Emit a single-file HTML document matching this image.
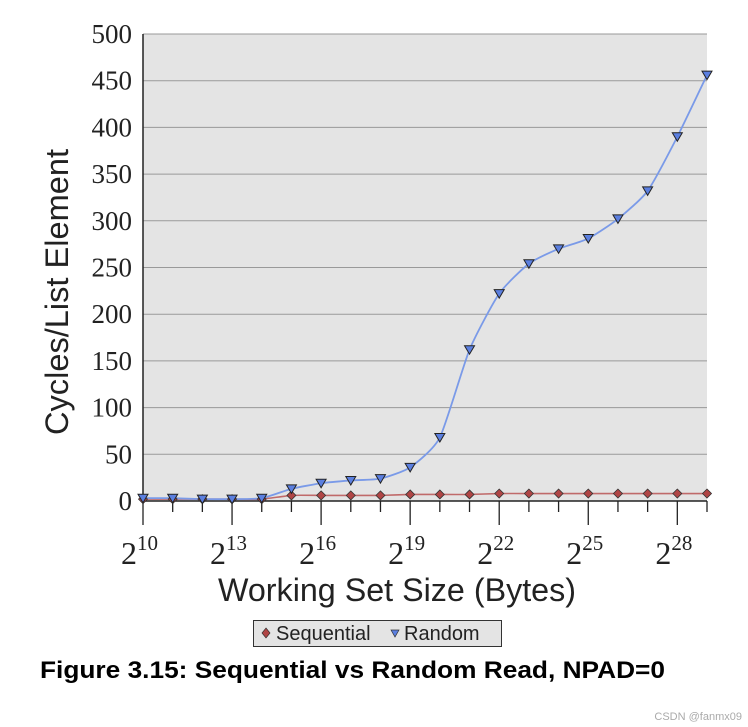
<!DOCTYPE html>
<html><head><meta charset="utf-8"><style>
body{margin:0;background:#fff;width:748px;height:727px;overflow:hidden}
svg{display:block}
</style></head><body>
<svg id="chart" width="748" height="727" xmlns="http://www.w3.org/2000/svg">
<rect x="143" y="34" width="564" height="467" fill="#e4e4e4"/>
<g id="grid"></g>
<g id="yticks" font-family="Liberation Serif, serif" font-size="27" fill="#222"></g>
<g id="xticks" font-family="Liberation Serif, serif" fill="#222"></g>
<g id="series"></g>
<text transform="translate(68,292) rotate(-90)" text-anchor="middle" font-family="Liberation Sans, sans-serif" font-size="32" textLength="286" lengthAdjust="spacingAndGlyphs" fill="#222">Cycles/List Element</text>
<text x="397" y="601" text-anchor="middle" font-family="Liberation Sans, sans-serif" font-size="32" textLength="358" lengthAdjust="spacingAndGlyphs" fill="#222">Working Set Size (Bytes)</text>
<g>
<rect x="253.5" y="620.5" width="248" height="26" fill="#e4e4e4" stroke="#333" stroke-width="1"/>
<g>
<path d="M266 628 L270 633 L266 638 L262 633 Z" fill="#b04545" stroke="#333" stroke-width="0.7"/>
<text x="276" y="640" font-family="Liberation Sans, sans-serif" font-size="20" fill="#222">Sequential</text>
</g>
<g>
<path d="M391 630 L399 630 L395 637 Z" fill="#5b7fe0" stroke="#333" stroke-width="0.7"/>
<text x="404" y="640" font-family="Liberation Sans, sans-serif" font-size="20" fill="#222">Random</text>
</g>
</g>
<text x="40" y="678" font-family="Liberation Sans, sans-serif" font-weight="bold" font-size="24" textLength="625" lengthAdjust="spacingAndGlyphs" fill="#000">Figure 3.15: Sequential vs Random Read, NPAD=0</text>
<text x="742" y="720" text-anchor="end" font-family="Liberation Sans, sans-serif" font-size="11" fill="#aaa">CSDN @fanmx09</text>
</svg>
<script>
const exponents=[10,11,12,13,14,15,16,17,18,19,20,21,22,23,24,25,26,27,28,29];
const randomVals=[3,3,2,2,3,13,19,22,24,36,68,162,222,254,270,281,302,332,390,456];
const sequentialVals=[2,2,2,2,2,6,6,6,6,7,7,7,8,8,8,8,8,8,8,8];
const yTicks=[0,50,100,150,200,250,300,350,400,450,500];
const xLabelExps=[10,13,16,19,22,25,28];
const NS='http://www.w3.org/2000/svg';
const X0=143,X1=707,Y0=501,Y1=34;
function xs(e){return X0+(e-10)/(29-10)*(X1-X0);}
function ys(v){return Y0-v/500*(Y0-Y1);}
function mk(t,a,p){const el=document.createElementNS(NS,t);for(const k in a)el.setAttribute(k,a[k]);p.appendChild(el);return el;}
const grid=document.getElementById('grid'),yt=document.getElementById('yticks'),xt=document.getElementById('xticks'),ser=document.getElementById('series');
yTicks.forEach(v=>{
 if(v>0){const l=mk('line',{x1:X0,x2:X1,y1:ys(v),y2:ys(v),stroke:'#999','stroke-width':1},grid);
 
 }
 const t=mk('text',{x:132,y:ys(v)+9,'text-anchor':'end'},yt);t.textContent=v;
 
 
});
const ax=mk('line',{x1:X0,x2:X0,y1:Y1,y2:Y0,stroke:'#222','stroke-width':1.5},grid);


const bx=mk('line',{x1:X0,x2:X1,y1:Y0,y2:Y0,stroke:'#222','stroke-width':1.5},grid);


exponents.forEach(e=>{
 const major=xLabelExps.includes(e);
 const tk=mk('line',{x1:xs(e),x2:xs(e),y1:Y0,y2:Y0+(major?24:11),stroke:'#222','stroke-width':1.3},xt);
 
 
});
xLabelExps.forEach(e=>{
 const t=mk('text',{x:xs(e)-22,y:564,'font-size':32},xt);
 
 
 t.textContent='2';
 const s=mk('tspan',{dy:-14,'font-size':21},t);s.textContent=String(e);
});
function smooth(pts){
 let d='M'+pts[0][0]+' '+pts[0][1];
 for(let i=0;i<pts.length-1;i++){
  const p0=pts[Math.max(0,i-1)],p1=pts[i],p2=pts[i+1],p3=pts[Math.min(pts.length-1,i+2)];
  const k=10;
  const c1=[p1[0]+(p2[0]-p0[0])/k,p1[1]+(p2[1]-p0[1])/k];
  const c2=[p2[0]-(p3[0]-p1[0])/k,p2[1]-(p3[1]-p1[1])/k];
  d+=' C'+c1[0]+' '+c1[1]+' '+c2[0]+' '+c2[1]+' '+p2[0]+' '+p2[1];
 }
 return d;
}
const sp=exponents.map((e,i)=>[xs(e),ys(sequentialVals[i])]);
const rp=exponents.map((e,i)=>[xs(e),ys(randomVals[i])]);
const sl=mk('path',{d:smooth(sp),fill:'none',stroke:'#c06a6a','stroke-width':1.6},ser);


const rl=mk('path',{d:smooth(rp),fill:'none',stroke:'#7a9ae8','stroke-width':1.8},ser);


sp.forEach((p,i)=>{
 const m=mk('path',{d:`M${p[0]} ${p[1]-4.5} L${p[0]+4.5} ${p[1]} L${p[0]} ${p[1]+4.5} L${p[0]-4.5} ${p[1]} Z`,fill:'#b04545',stroke:'#333','stroke-width':0.8},ser);
 
 
});
rp.forEach((p,i)=>{
 const m=mk('path',{d:`M${p[0]-5} ${p[1]-4} L${p[0]+5} ${p[1]-4} L${p[0]} ${p[1]+4.5} Z`,fill:'#5b7fe0',stroke:'#222','stroke-width':1},ser);
 
 
});
</script>
</body></html>
